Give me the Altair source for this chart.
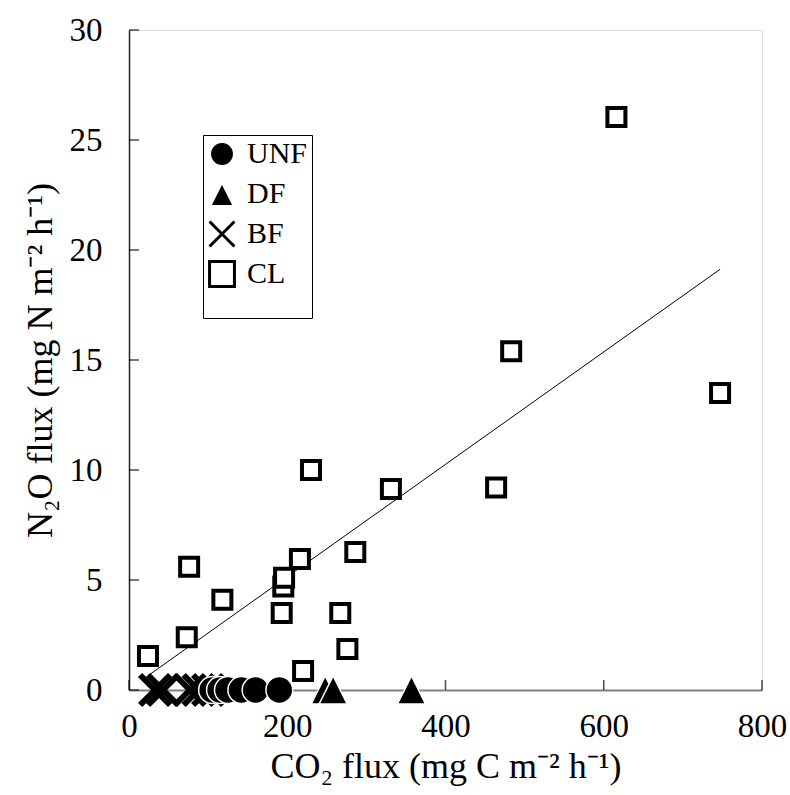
import altair as alt
import pandas as pd

# ---- data ----
groups = ["UNF", "DF", "BF", "CL"]

unf_co2 = [105, 115, 125, 142, 160, 190]
unf_n2o = [0, 0, 0, 0, 0, 0]

df_co2 = [248, 258, 357]
df_n2o = [0, 0, 0]

bf_co2 = [33, 43, 77, 88, 100]
bf_n2o = [0, 0, 0, 0, 0]

cl_co2 = [24, 73, 76, 118, 193, 195, 196, 216, 220, 230, 267, 276, 286, 331, 464, 483, 616, 747]
cl_n2o = [1.55, 2.4, 5.6, 4.1, 3.5, 4.7, 5.1, 5.95, 0.86, 10.0, 3.5, 1.86, 6.27, 9.14, 9.2, 15.4, 26.05, 13.5]

x_ticks = [0, 200, 400, 600, 800]
y_ticks = [0, 5, 10, 15, 20, 25, 30]

FONT = "Liberation Serif"

def frame(name, xs, ys):
    return pd.DataFrame({"co2": xs, "n2o": ys, "group": [name] * len(xs)})

unf = frame("UNF", unf_co2, unf_n2o)
dfd = frame("DF", df_co2, df_n2o)
bf = frame("BF", bf_co2, bf_n2o)
cl = frame("CL", cl_co2, cl_n2o)

X_PATH = "M-1,-1L1,1M-1,1L1,-1"
TRI_PATH = "M0,-1L1,1L-1,1Z"

xscale = alt.Scale(domain=[0, 800], nice=False, zero=False)
yscale = alt.Scale(domain=[0, 30], nice=False, zero=False)

xaxis = alt.Axis(values=x_ticks, tickSize=0, grid=False, labelFlush=False,
                 labelFont=FONT, labelFontSize=33, labelColor="black", labelPadding=20,
                 title="CO₂ flux (mg C m⁻² h⁻¹)", titleFont=FONT, titleFontSize=36,
                 titleFontWeight="normal", titleColor="black", titlePadding=6,
                 domainColor="#808080", domainWidth=2, labelOverlap=False)
yaxis = alt.Axis(values=y_ticks, tickSize=0, grid=False, labelFlush=False,
                 labelFont=FONT, labelFontSize=33, labelColor="black", labelPadding=27,
                 title="N₂O flux (mg N m⁻² h⁻¹)", titleFont=FONT, titleFontSize=36,
                 titleFontWeight="normal", titleColor="black", titlePadding=10,
                 domainColor="#222222", domainWidth=1.5, labelOverlap=False)

legend = alt.Legend(orient="none", legendX=74, legendY=105, title=" ",
                    titleOrient="bottom", titleFontSize=20, titlePadding=2,
                    labelFont=FONT, labelFontSize=30, labelColor="black",
                    labelOffset=10, rowPadding=2, padding=4,
                    strokeColor="black", symbolSize=620, symbolStrokeWidth=3)

shape_enc = alt.Shape("group:N", scale=alt.Scale(domain=groups,
                      range=["circle", TRI_PATH, X_PATH, "square"]), legend=legend)
fill_enc = alt.Fill("group:N", scale=alt.Scale(domain=groups,
                    range=["black", "black", "transparent", "white"]), legend=legend)
stroke_enc = alt.Stroke("group:N", scale=alt.Scale(domain=groups,
                        range=["white", "white", "black", "black"]), legend=legend)

def points(data, size, sw):
    return alt.Chart(data).mark_point(size=size, strokeWidth=sw, opacity=1).encode(
        x=alt.X("co2:Q", scale=xscale, axis=xaxis),
        y=alt.Y("n2o:Q", scale=yscale, axis=yaxis),
        shape=shape_enc, fill=fill_enc, stroke=stroke_enc,
    )

reg = alt.Chart(cl).transform_regression("co2", "n2o").mark_line(
    color="black", strokeWidth=1).encode(
    x=alt.X("co2:Q", scale=xscale, axis=xaxis),
    y=alt.Y("n2o:Q", scale=yscale, axis=yaxis),
)

xt = alt.Chart(pd.DataFrame({"co2": x_ticks})).mark_tick(
    orient="vertical", size=10, thickness=1.5, color="black", yOffset=-5).encode(
    x=alt.X("co2:Q", scale=xscale, axis=xaxis), y=alt.datum(0))
yt = alt.Chart(pd.DataFrame({"n2o": y_ticks})).mark_tick(
    orient="horizontal", size=10, thickness=1.5, color="black", xOffset=5).encode(
    y=alt.Y("n2o:Q", scale=yscale, axis=yaxis), x=alt.datum(0))

chart = alt.layer(
    xt, yt, reg,
    points(cl, 324, 4),
    points(bf, 900, 6),
    points(unf, 720, 1.5),
    points(dfd, 784, 1.5),
).properties(
    width=633, height=660,
    autosize=alt.AutoSizeParams(type="none"),
    padding={"left": 129, "top": 30, "right": 28, "bottom": 105},
).configure_view(stroke=None).configure(background="white")

chart.save("out.html", embed_options={"renderer": "svg", "actions": False})
